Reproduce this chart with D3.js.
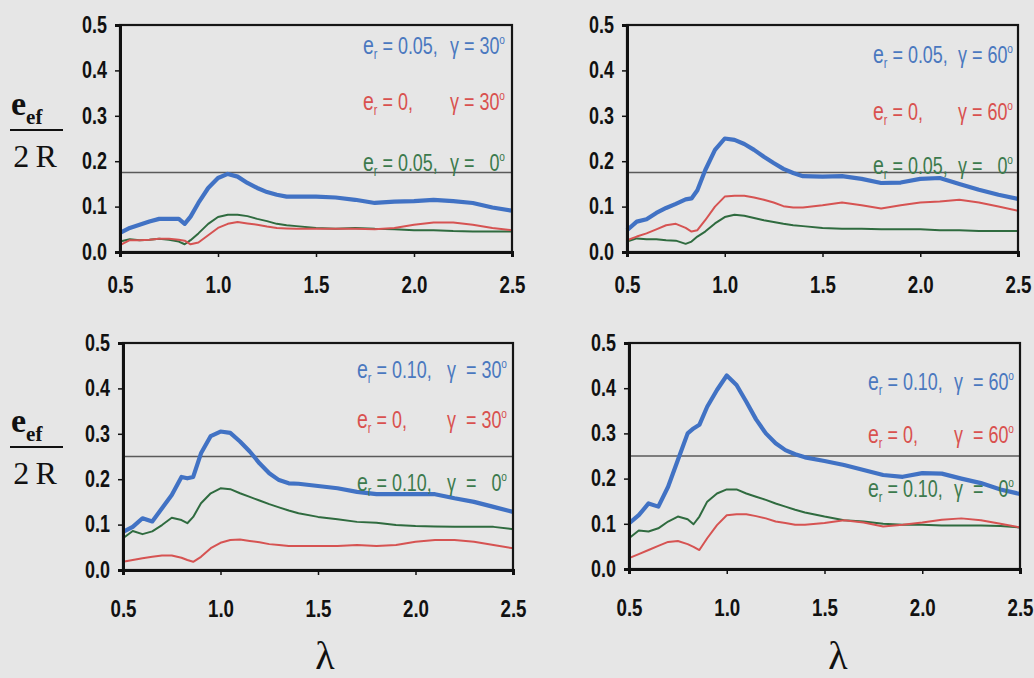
<!DOCTYPE html>
<html>
<head>
<meta charset="utf-8">
<script src="https://cdn.jsdelivr.net/npm/d3@7"></script>
<style>
  html, body { margin: 0; padding: 0; background: #e6e6e6; }
  svg { display: block; }
  .tick text { font-family: "Liberation Sans", Arial, sans-serif; font-weight: bold; fill: #111; }
  .legend { font-family: "Liberation Sans", Arial, sans-serif; white-space: pre; }
  .serif { font-family: "Liberation Serif", "Times New Roman", serif; fill: #111; }
</style>
</head>
<body>
<svg id="chart" width="1034" height="678"></svg>
<script>
// Shared abscissa (lambda) for every curve
const lambda = [0.5, 0.55, 0.6, 0.65, 0.7, 0.75, 0.8, 0.83, 0.86, 0.9, 0.95, 1.0, 1.05, 1.1, 1.15, 1.2, 1.25, 1.3, 1.35, 1.4, 1.5, 1.6, 1.7, 1.8, 1.9, 2.0, 2.1, 2.2, 2.3, 2.4, 2.5];

// Axis ticks
const xTicks = [0.5, 1.0, 1.5, 2.0, 2.5];
const yTicks = [0.0, 0.1, 0.2, 0.3, 0.4, 0.5];

// Reference level drawn in each panel
const refLevel = [0.175, 0.175, 0.25, 0.25];

// Panel (a): er = 0.05, gamma = 30
const a_er005_g30 = [0.042, 0.053, 0.060, 0.067, 0.073, 0.073, 0.073, 0.062, 0.078, 0.108, 0.141, 0.163, 0.172, 0.166, 0.152, 0.141, 0.132, 0.126, 0.122, 0.122, 0.122, 0.120, 0.115, 0.108, 0.111, 0.112, 0.115, 0.112, 0.108, 0.098, 0.091];
const a_er0_g30   = [0.015, 0.026, 0.026, 0.027, 0.029, 0.029, 0.027, 0.025, 0.017, 0.021, 0.037, 0.053, 0.062, 0.066, 0.063, 0.060, 0.056, 0.053, 0.052, 0.051, 0.051, 0.051, 0.051, 0.050, 0.053, 0.060, 0.065, 0.065, 0.060, 0.053, 0.048];
const a_er005_g0  = [0.023, 0.028, 0.026, 0.027, 0.029, 0.027, 0.023, 0.017, 0.026, 0.041, 0.062, 0.077, 0.082, 0.082, 0.079, 0.073, 0.068, 0.062, 0.059, 0.057, 0.053, 0.051, 0.053, 0.051, 0.050, 0.048, 0.048, 0.046, 0.045, 0.045, 0.045];

// Panel (b): er = 0.05, gamma = 60
const b_er005_g60 = [0.048, 0.067, 0.072, 0.086, 0.097, 0.106, 0.116, 0.118, 0.136, 0.180, 0.225, 0.250, 0.247, 0.238, 0.225, 0.210, 0.196, 0.183, 0.174, 0.167, 0.166, 0.167, 0.161, 0.152, 0.153, 0.161, 0.163, 0.150, 0.137, 0.126, 0.117];
const b_er0_g60   = [0.026, 0.034, 0.041, 0.050, 0.059, 0.062, 0.053, 0.045, 0.048, 0.070, 0.100, 0.122, 0.124, 0.124, 0.120, 0.115, 0.109, 0.101, 0.098, 0.098, 0.103, 0.109, 0.103, 0.096, 0.103, 0.109, 0.111, 0.115, 0.109, 0.100, 0.091];
const b_er005_g0  = [0.023, 0.030, 0.028, 0.028, 0.026, 0.025, 0.018, 0.023, 0.034, 0.045, 0.063, 0.077, 0.082, 0.080, 0.075, 0.070, 0.066, 0.062, 0.059, 0.057, 0.053, 0.051, 0.051, 0.050, 0.050, 0.050, 0.048, 0.048, 0.046, 0.046, 0.046];

// Panel (c): er = 0.10, gamma = 30
const c_er010_g30 = [0.084, 0.095, 0.114, 0.107, 0.136, 0.165, 0.205, 0.202, 0.205, 0.257, 0.295, 0.305, 0.302, 0.283, 0.261, 0.235, 0.213, 0.198, 0.191, 0.190, 0.185, 0.180, 0.172, 0.167, 0.167, 0.167, 0.167, 0.158, 0.150, 0.139, 0.128];
const c_er0_g30   = [0.018, 0.022, 0.026, 0.029, 0.032, 0.032, 0.027, 0.022, 0.018, 0.029, 0.048, 0.060, 0.066, 0.067, 0.064, 0.061, 0.057, 0.055, 0.053, 0.053, 0.053, 0.053, 0.055, 0.053, 0.055, 0.062, 0.066, 0.066, 0.062, 0.055, 0.048];
const c_er010_g0  = [0.070, 0.086, 0.079, 0.085, 0.099, 0.115, 0.110, 0.103, 0.117, 0.147, 0.169, 0.180, 0.178, 0.169, 0.161, 0.153, 0.145, 0.138, 0.131, 0.125, 0.117, 0.112, 0.106, 0.104, 0.099, 0.097, 0.096, 0.095, 0.095, 0.095, 0.090];

// Panel (d): er = 0.10, gamma = 60
const d_er010_g60 = [0.101, 0.119, 0.145, 0.138, 0.182, 0.241, 0.300, 0.311, 0.319, 0.359, 0.396, 0.428, 0.407, 0.370, 0.331, 0.300, 0.278, 0.263, 0.254, 0.247, 0.239, 0.230, 0.219, 0.208, 0.204, 0.212, 0.211, 0.200, 0.190, 0.176, 0.166];
const d_er0_g60   = [0.024, 0.033, 0.042, 0.051, 0.060, 0.062, 0.055, 0.049, 0.042, 0.068, 0.097, 0.119, 0.121, 0.121, 0.117, 0.112, 0.105, 0.102, 0.098, 0.098, 0.102, 0.108, 0.103, 0.094, 0.098, 0.103, 0.109, 0.112, 0.108, 0.100, 0.092];
const d_er010_g0  = [0.068, 0.085, 0.083, 0.090, 0.105, 0.116, 0.110, 0.099, 0.116, 0.149, 0.167, 0.176, 0.176, 0.167, 0.160, 0.153, 0.145, 0.138, 0.131, 0.125, 0.116, 0.108, 0.105, 0.100, 0.098, 0.098, 0.096, 0.096, 0.096, 0.095, 0.092];

// Legend entries per panel: [er, gamma]
const legendA = [["0.05", "30"], ["0", "30"], ["0.05", "0"]];
const legendB = [["0.05", "60"], ["0", "60"], ["0.05", "0"]];
const legendC = [["0.10", "30"], ["0", "30"], ["0.10", "0"]];
const legendD = [["0.10", "60"], ["0", "60"], ["0.10", "0"]];

// ---- layout & styling ----
const NARROW = 0.78;   // horizontal squeeze giving a condensed sans face

const seriesStyle = [
  { color: "#4172c4", width: 4.2, text: "#4a78bf" },
  { color: "#d65352", width: 2.0, text: "#d9514f" },
  { color: "#2f6b3f", width: 2.0, text: "#3c7a4d" }
];

const panels = [
  { box: { left: 120, right: 512, top: 25, bottom: 252 }, series: [a_er005_g30, a_er0_g30, a_er005_g0], legend: legendA, ref: refLevel[0],
    legendPos: { lx: 363, rx: 505, ys: [54, 110, 171] }, wide: false, xLabelY: 41, lambdaLabel: false },
  { box: { left: 627, right: 1018, top: 25, bottom: 252 }, series: [b_er005_g60, b_er0_g60, b_er005_g0], legend: legendB, ref: refLevel[1],
    legendPos: { lx: 873, rx: 1013, ys: [63, 120, 174] }, wide: false, xLabelY: 41, lambdaLabel: false },
  { box: { left: 123, right: 513, top: 343, bottom: 570 }, series: [c_er010_g30, c_er0_g30, c_er010_g0], legend: legendC, ref: refLevel[2],
    legendPos: { lx: 357, rx: 507, ys: [378, 428, 491] }, wide: true, xLabelY: 47, lambdaLabel: true, lambdaX: 325 },
  { box: { left: 629, right: 1020, top: 343, bottom: 569 }, series: [d_er010_g60, d_er0_g60, d_er010_g0], legend: legendD, ref: refLevel[3],
    legendPos: { lx: 868, rx: 1014, ys: [390, 443, 497] }, wide: true, xLabelY: 47, lambdaLabel: true, lambdaX: 838 }
];

const svg = d3.select("#chart");
svg.append("rect").attr("width", 1034).attr("height", 678).attr("fill", "#e6e6e6");

// Fraction label e_ef / 2R beside the left column
function yFraction(dy) {
  const g = svg.append("g").attr("class", "serif").attr("transform", `translate(0,${dy})`);
  const t = g.append("text").attr("x", 11).attr("y", 115).attr("font-size", 34).attr("font-weight", "bold");
  t.append("tspan").text("e");
  t.append("tspan").attr("font-size", 21).attr("dy", 9).text("ef");
  g.append("line").attr("x1", 10).attr("x2", 63).attr("y1", 130).attr("y2", 130)
    .attr("stroke", "#111").attr("stroke-width", 1.8);
  g.append("text").attr("x", 35).attr("y", 167).attr("text-anchor", "middle")
    .attr("font-size", 32).text("2\u2009R");
}
yFraction(0);
yFraction(317);

panels.forEach(p => {
  const b = p.box;
  const x = d3.scaleLinear().domain([0.5, 2.5]).range([b.left, b.right]);
  const y = d3.scaleLinear().domain([0, 0.5]).range([b.bottom, b.top]);
  const g = svg.append("g");

  // reference level
  g.append("line")
    .attr("x1", b.left).attr("x2", b.right)
    .attr("y1", y(p.ref)).attr("y2", y(p.ref))
    .attr("stroke", "#5a5a5a").attr("stroke-width", 1.6);

  // curves: green, red, then the thick blue on top
  const line = d3.line().x((d, i) => x(lambda[i])).y(d => y(d));
  [2, 1, 0].forEach(k => {
    g.append("path")
      .datum(p.series[k])
      .attr("d", line)
      .attr("fill", "none")
      .attr("stroke", seriesStyle[k].color)
      .attr("stroke-width", seriesStyle[k].width)
      .attr("stroke-linejoin", "round");
  });

  // frame
  g.append("rect")
    .attr("x", b.left).attr("y", b.top)
    .attr("width", b.right - b.left).attr("height", b.bottom - b.top)
    .attr("fill", "none").attr("stroke", "#151515").attr("stroke-width", 2.2);

  // axes
  const yAxis = g.append("g").attr("transform", `translate(${b.left},0)`)
    .call(d3.axisLeft(y).tickValues(yTicks).tickFormat(d3.format(".1f")).tickSize(5).tickPadding(9));
  yAxis.select(".domain").attr("stroke", "#111").attr("stroke-width", 3);
  yAxis.selectAll(".tick line").attr("stroke", "#111").attr("stroke-width", 1.5);
  yAxis.selectAll(".tick text")
    .attr("font-size", 23)
    .attr("x", null)
    .attr("transform", `translate(-13,0) scale(${NARROW},1)`);

  const xAxis = g.append("g").attr("transform", `translate(0,${b.bottom})`)
    .call(d3.axisBottom(x).tickValues(xTicks).tickFormat(d3.format(".1f")).tickSize(5).tickPadding(0));
  xAxis.select(".domain").attr("stroke", "#111").attr("stroke-width", 3);
  xAxis.selectAll(".tick line").attr("stroke", "#111").attr("stroke-width", 1.5);
  xAxis.selectAll(".tick text")
    .attr("font-size", 24).attr("dy", null).attr("y", null)
    .attr("transform", `translate(0,${p.xLabelY}) scale(${NARROW},1)`);

  // legend
  p.legend.forEach((entry, k) => {
    const [er, gam] = entry;
    const yy = p.legendPos.ys[k];
    const col = seriesStyle[k].text;
    const left = g.append("text").attr("class", "legend")
      .attr("transform", `translate(${p.legendPos.lx},${yy}) scale(${NARROW},1)`)
      .attr("font-size", 23).attr("fill", col);
    left.append("tspan").attr("font-size", 25).text("e");
    left.append("tspan").attr("font-size", 14).attr("dy", 5).text("r");
    left.append("tspan").attr("dy", -5).text(" = " + er + ",");

    const gamText = (p.wide ? "\u03B3  = " : "\u03B3 = ") + (gam === "0" ? "  " + gam : gam);
    const right = g.append("text").attr("class", "legend")
      .attr("transform", `translate(${p.legendPos.rx},${yy}) scale(${NARROW},1)`)
      .attr("font-size", 23).attr("fill", col)
      .attr("text-anchor", "end");
    right.append("tspan").text(gamText);
    right.append("tspan").attr("font-size", 13).attr("dy", -10).text("o");
  });

  if (p.lambdaLabel) {
    svg.append("text").attr("class", "serif")
      .attr("x", p.lambdaX).attr("y", 669).attr("text-anchor", "middle")
      .attr("font-size", 40).text("\u03BB");
  }
});
</script>
</body>
</html>
